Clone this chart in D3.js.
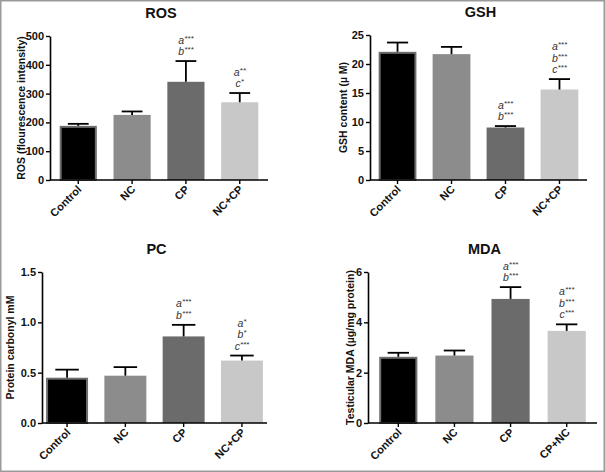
<!DOCTYPE html>
<html>
<head>
<meta charset="utf-8">
<script src="https://cdn.jsdelivr.net/npm/d3@7"></script>
<style>
  html, body { margin: 0; padding: 0; background: #fff; }
  svg { display: block; font-family: "Liberation Sans", Arial, sans-serif; }
</style>
</head>
<body>
<svg id="chart" width="605" height="472"></svg>
<script>
// ---------- data ----------
const categories = ["Control", "NC", "CP", "NC+CP"];
const categoriesMDA = ["Control", "NC", "CP", "CP+NC"];
const barColors = ["#000000", "#8c8c8c", "#6b6b6b", "#c8c8c8"];

const rosMean = [188, 226, 341, 270];
const rosErr  = [7, 12, 72, 32];
const rosTicks = [0, 100, 200, 300, 400, 500];
const rosNotes = [[], [], [["a", "***"], ["b", "***"]], [["a", "**"], ["c", "*"]]];

const gshMean = [22.1, 21.7, 9.05, 15.6];
const gshErr  = [1.6, 1.25, 0.25, 1.8];
const gshTicks = [0, 5, 10, 15, 20, 25];
const gshNotes = [[], [], [["a", "***"], ["b", "***"]], [["a", "***"], ["b", "***"], ["c", "***"]]];

const pcMean = [0.45, 0.47, 0.86, 0.62];
const pcErr  = [0.08, 0.085, 0.115, 0.05];
const pcTicks = [0, 0.5, 1.0, 1.5];
const pcNotes = [[], [], [["a", "***"], ["b", "***"]], [["a", "*"], ["b", "*"], ["c", "***"]]];

const mdaMean = [2.63, 2.68, 4.93, 3.66];
const mdaErr  = [0.16, 0.2, 0.47, 0.26];
const mdaTicks = [0, 2, 4, 6];
const mdaNotes = [[], [], [["a", "***"], ["b", "***"]], [["a", "***"], ["b", "***"], ["c", "***"]]];

// ---------- layout ----------
const panels = [
  { title: "ROS", ytitle: "ROS (flourescence intensity)", cats: categories, mean: rosMean, err: rosErr,
    ticks: rosTicks, fmt: d3.format("d"), max: 500, x0: 50, x1: 268, y0: 180, y1: 36, pi: 0.31, po: 0.18, ytx: 21,
    notes: rosNotes },
  { title: "GSH", ytitle: "GSH content (\u00b5 M)", cats: categories, mean: gshMean, err: gshErr,
    ticks: gshTicks, fmt: d3.format("d"), max: 25, x0: 370, x1: 587, y0: 180, y1: 35, pi: 0.3, po: 0.16, ytx: 343,
    notes: gshNotes },
  { title: "PC", ytitle: "Protein carbonyl mM", cats: categories, mean: pcMean, err: pcErr,
    ticks: pcTicks, fmt: d3.format(".1f"), max: 1.5, x0: 42, x1: 267, y0: 423, y1: 272, pi: 0.28, po: 0.07, ytx: 10,
    notes: pcNotes },
  { title: "MDA", ytitle: "Testicular MDA (\u00b5g/mg protein)", cats: categoriesMDA, mean: mdaMean, err: mdaErr,
    ticks: mdaTicks, fmt: d3.format("d"), max: 6, x0: 368, x1: 597, y0: 423, y1: 272, pi: 0.32, po: 0.2, ytx: 350,
    notes: mdaNotes }
];

const svg = d3.select("#chart");
svg.append("rect").attr("x", 0.75).attr("y", 0.75).attr("width", 603.5).attr("height", 470.5)
  .attr("fill", "#fff").attr("stroke", "#9a9a9a").attr("stroke-width", 1.5);

panels.forEach(p => {
  const g = svg.append("g");
  const x = d3.scaleBand().domain(p.cats).range([p.x0, p.x1]).paddingInner(p.pi).paddingOuter(p.po);
  const y = d3.scaleLinear().domain([0, p.max]).range([p.y0, p.y1]);

  // bars
  const data = p.cats.map((c, i) => ({ c, i, m: p.mean[i], e: p.err[i] }));
  g.selectAll("rect.bar").data(data).enter().append("rect")
    .attr("x", d => x(d.c) + (d.i === 0 ? 1 : 0))
    .attr("width", d => x.bandwidth() - (d.i === 0 ? 2 : 0))
    .attr("y", d => y(d.m) + (d.i === 0 ? 1 : 0))
    .attr("height", d => p.y0 - y(d.m) - (d.i === 0 ? 1 : 0))
    .attr("fill", d => barColors[d.i])
    .attr("stroke", d => d.i === 0 ? "#6e6e6e" : "none")
    .attr("stroke-width", 2);

  // error bars (upper only)
  const cw = x.bandwidth() * 0.28;
  data.forEach(d => {
    const cx = x(d.c) + x.bandwidth() / 2;
    g.append("line").attr("x1", cx).attr("x2", cx).attr("y1", y(d.m)).attr("y2", y(d.m + d.e))
      .attr("stroke", "#000").attr("stroke-width", 1.8);
    g.append("line").attr("x1", cx - cw).attr("x2", cx + cw).attr("y1", y(d.m + d.e)).attr("y2", y(d.m + d.e))
      .attr("stroke", "#000").attr("stroke-width", 1.8);
  });

  // axes
  const ya = g.append("g").attr("transform", `translate(${p.x0},0)`)
    .call(d3.axisLeft(y).tickValues(p.ticks).tickFormat(p.fmt).tickSize(4).tickPadding(2).tickSizeOuter(0));
  ya.select(".domain").attr("stroke-width", 1.6);
  ya.selectAll(".tick line").attr("stroke-width", 1.4);
  ya.selectAll("text").attr("font-size", 11).attr("font-weight", "bold").attr("fill", "#111")
    .attr("font-family", "Liberation Sans, Arial, sans-serif");

  const xa = g.append("g").attr("transform", `translate(0,${p.y0})`)
    .call(d3.axisBottom(x).tickSize(4).tickSizeOuter(0).tickPadding(2));
  xa.select(".domain").attr("stroke-width", 1.6).attr("d", `M${p.x0},0H${p.x1}`);
  xa.selectAll(".tick line").attr("stroke-width", 1.4);
  xa.selectAll("text")
    .attr("font-size", 11).attr("font-weight", "bold").attr("fill", "#111")
    .attr("font-family", "Liberation Sans, Arial, sans-serif")
    .attr("text-anchor", "end").attr("dy", null).attr("y", null)
    .attr("transform", "translate(4,10) rotate(-45)");

  // titles
  g.append("text").attr("x", (p.x0 + p.x1) / 2 + 2).attr("y", p.y1 - 18)
    .attr("text-anchor", "middle").attr("font-size", 14.5).attr("font-weight", "bold").attr("fill", "#111")
    .text(p.title);
  g.append("text")
    .attr("transform", `translate(${p.ytx + 4},${(p.y0 + p.y1) / 2}) rotate(-90)`)
    .attr("text-anchor", "middle").attr("font-size", 10.5).attr("font-weight", "bold").attr("fill", "#111")
    .text(p.ytitle);

  // significance notes
  data.forEach(d => {
    const lines = p.notes[d.i];
    if (!lines.length) return;
    const cx = x(d.c) + x.bandwidth() / 2;
    const top = y(d.m + d.e);
    lines.forEach((ln, k) => {
      const yy = top - 6 - (lines.length - 1 - k) * 11.5;
      const t = g.append("text").attr("x", cx).attr("y", yy).attr("text-anchor", "middle")
        .attr("font-size", 10.5).attr("font-style", "italic").attr("fill", "#333");
      t.append("tspan").text(ln[0]);
      t.append("tspan").attr("font-size", 8).attr("dy", -3).text(ln[1]);
    });
  });
});
</script>
</body>
</html>
